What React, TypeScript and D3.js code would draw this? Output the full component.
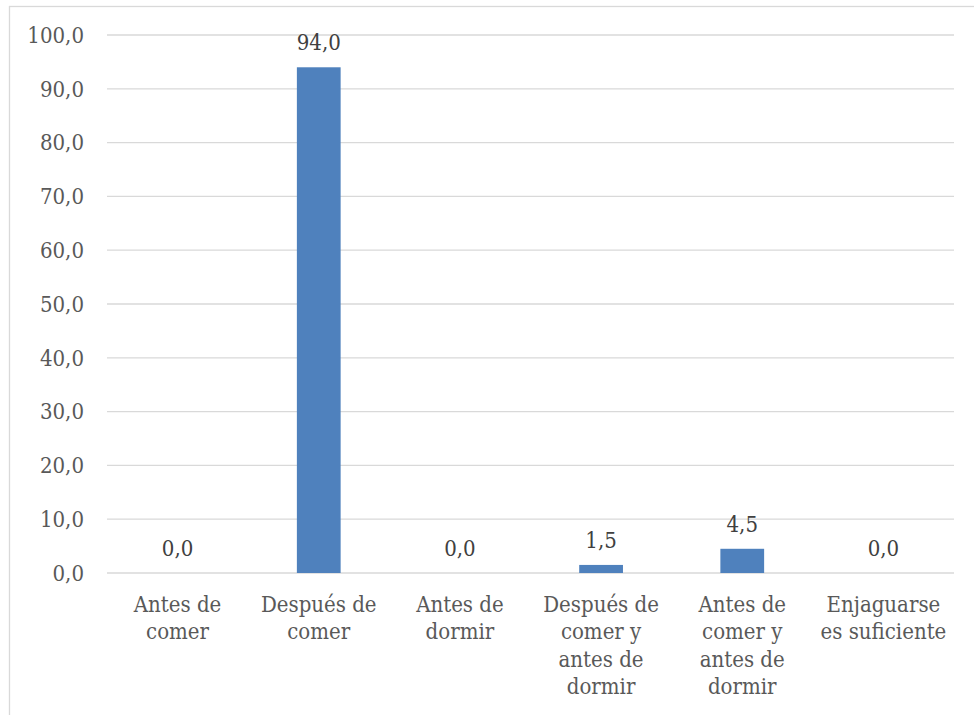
import React from "react";
import * as d3 from "d3";

const categories: string[][] = [
  ["Antes de", "comer"],
  ["Después de", "comer"],
  ["Antes de", "dormir"],
  ["Después de", "comer y", "antes de", "dormir"],
  ["Antes de", "comer y", "antes de", "dormir"],
  ["Enjaguarse", "es suficiente"],
];
const values: number[] = [0.0, 94.0, 0.0, 1.5, 4.5, 0.0];
const yTicks: number[] = [0, 10, 20, 30, 40, 50, 60, 70, 80, 90, 100];

const W = 974;
const H = 715;
const left = 107;
const right = 954;
const top = 35;
const bottom = 573;
const FONT = "'DejaVu Serif Condensed', 'DejaVu Serif', serif";
const FS = 22;
const TEXT = "#595959";

export default function App() {
  const idx = categories.map((_, i) => String(i));
  const x = d3.scaleBand<string>().domain(idx).range([left, right]).paddingInner(0.69).paddingOuter(0.345);
  const y = d3.scaleLinear().domain([0, 100]).range([bottom, top]);
  const fmt = (v: number) => d3.format(".1f")(v).replace(".", ",");
  const step = (right - left) / categories.length;
  const center = (i: number) => left + step * (i + 0.5);
  const bw = x.bandwidth();

  return (
    <svg
      width={W}
      height={H}
      style={{ position: "absolute", left: 0, top: 0, background: "#fff", fontStretch: "condensed" }}
      fontFamily={FONT}
    >
      <rect x={9.5} y={6.5} width={W + 10} height={H + 10} fill="#fff" stroke="#D9D9D9" strokeWidth={1.3} />
      {yTicks.map((t) => (
        <g key={t}>
          <line x1={left} x2={right} y1={y(t)} y2={y(t)} stroke="#D9D9D9" strokeWidth={1.3} />
          <text x={84} y={y(t)} dy="0.35em" textAnchor="end" fontSize={FS} fill={TEXT}>
            {fmt(t)}
          </text>
        </g>
      ))}
      {values.map((v, i) => (
        <rect
          key={i}
          x={center(i) - bw / 2}
          y={y(v)}
          width={bw}
          height={y(0) - y(v)}
          fill="#4F81BD"
        />
      ))}
      {values.map((v, i) => (
        <text key={i} x={center(i)} y={y(v) - 17} textAnchor="middle" fontSize={FS} fill="#404040">
          {fmt(v)}
        </text>
      ))}
      {categories.map((lines, i) => (
        <text key={i} x={center(i)} y={611.5} textAnchor="middle" fontSize={FS} fill={TEXT}>
          {lines.map((l, j) => (
            <tspan key={j} x={center(i)} dy={j === 0 ? 0 : 27.5}>
              {l}
            </tspan>
          ))}
        </text>
      ))}
    </svg>
  );
}
